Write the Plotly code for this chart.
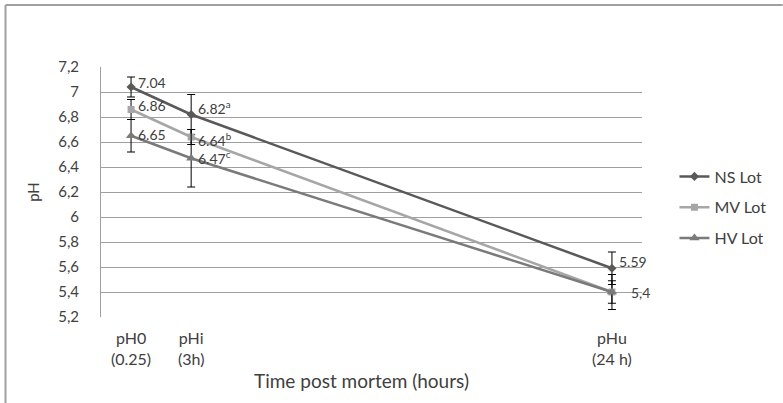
import plotly.graph_objects as go

# ---- data ----
categories = ["pH0<br>(0.25)", "pHi<br>(3h)", "", "", "", "", "", "", "pHu<br>(24 h)"]
x_index = [0, 1, 8]
ns_values = [7.04, 6.82, 5.59]
ns_err = [0.08, 0.16, 0.13]
mv_values = [6.86, 6.64, 5.40]
mv_err = [0.08, 0.06, 0.09]
hv_values = [6.65, 6.47, 5.40]
hv_err = [0.13, 0.23, 0.14]
ns_labels = ["7.04", "6.82<sup>a</sup>", "5.59"]
mv_labels = ["6.86", "6.64<sup>b</sup>", ""]
hv_labels = ["6.65", "6.47<sup>c</sup>", "5,4"]
y_tickvals = [5.2, 5.4, 5.6, 5.8, 6.0, 6.2, 6.4, 6.6, 6.8, 7.0, 7.2]
y_ticktext = ["5,2", "5,4", "5,6", "5,8", "6", "6,2", "6,4", "6,6", "6,8", "7", "7,2"]
x_title = "Time post mortem (hours)"

FONT = "Lato, 'Open Sans', sans-serif"
TXT = "#404040"

series = [
    ("NS Lot", ns_values, ns_err, ns_labels, "#595959", "diamond", 7,
     [(5, 5), (5, 7), (5, 7)]),
    ("MV Lot", mv_values, mv_err, mv_labels, "#a6a6a6", "square", 7,
     [(5, 4), (5, -2), (5, 0)]),
    ("HV Lot", hv_values, hv_err, hv_labels, "#7a7a7a", "triangle-up", 9,
     [(5, 1), (5, 1), (17, 0)]),
]

fig = go.Figure()
annotations = []
for i, (name, vals, errs, labels, color, sym, msize, shifts) in enumerate(series):
    fig.add_trace(go.Scatter(
        x=x_index, y=vals, name=name, mode="lines+markers",
        line=dict(color=color, width=2.5),
        marker=dict(symbol=sym, size=msize, color=color),
        error_y=dict(type="data", array=errs, visible=True,
                     color="black", thickness=1, width=4),
        legendgroup=name,
    ))
    for xv, yv, lab, (xs, ys) in zip(x_index, vals, labels, shifts):
        if lab:
            annotations.append(dict(
                x=xv, y=yv, xref="x", yref="y", text=lab, showarrow=False,
                xanchor="left", yanchor="middle", xshift=xs, yshift=ys,
                font=dict(family=FONT, size=14, color=TXT)))

# x-axis title placed as annotation (slightly left of plot centre, as in reference)
annotations.append(dict(
    x=0.4816, y=-0.252, xref="paper", yref="paper", text=x_title, showarrow=False,
    xanchor="center", yanchor="middle", font=dict(family=FONT, size=19, color=TXT)))

# outer frame lines (left and top)
shapes = [
    dict(type="line", xref="paper", yref="paper", x0=-0.1765, x1=-0.1765,
         y0=1.248, y1=-0.35, line=dict(color="#a0a0a0", width=2)),
    dict(type="line", xref="paper", yref="paper", x0=-0.1765, x1=1.26,
         y0=1.248, y1=1.248, line=dict(color="#a0a0a0", width=2)),
]

fig.update_layout(
    width=783, height=403,
    margin=dict(l=101, r=138, t=67, b=86),
    paper_bgcolor="white", plot_bgcolor="white",
    font=dict(family=FONT, size=15, color=TXT),
    showlegend=True,
    legend=dict(x=1.06, y=0.63, xanchor="left", yanchor="top",
                font=dict(family=FONT, size=16, color=TXT),
                tracegroupgap=7, bgcolor="rgba(0,0,0,0)"),
    annotations=annotations,
    shapes=shapes,
)
fig.update_xaxes(
    tickmode="array", tickvals=list(range(len(categories))), ticktext=categories,
    range=[-0.5, 8.5], showgrid=False, zeroline=False, showline=False,
    ticks="", ticklabelstandoff=10, tickfont=dict(size=16, color=TXT),
)
fig.update_yaxes(
    tickmode="array", tickvals=y_tickvals, ticktext=y_ticktext,
    range=[5.2, 7.2], showgrid=True, gridcolor="#a0a0a0", gridwidth=1,
    zeroline=False, showline=True, linecolor="#a0a0a0", linewidth=1,
    ticks="", ticklabelstandoff=18, tickfont=dict(size=15, color=TXT),
    title=dict(text="pH", font=dict(size=15, color=TXT), standoff=14),
)

fig.write_html("out.html")
